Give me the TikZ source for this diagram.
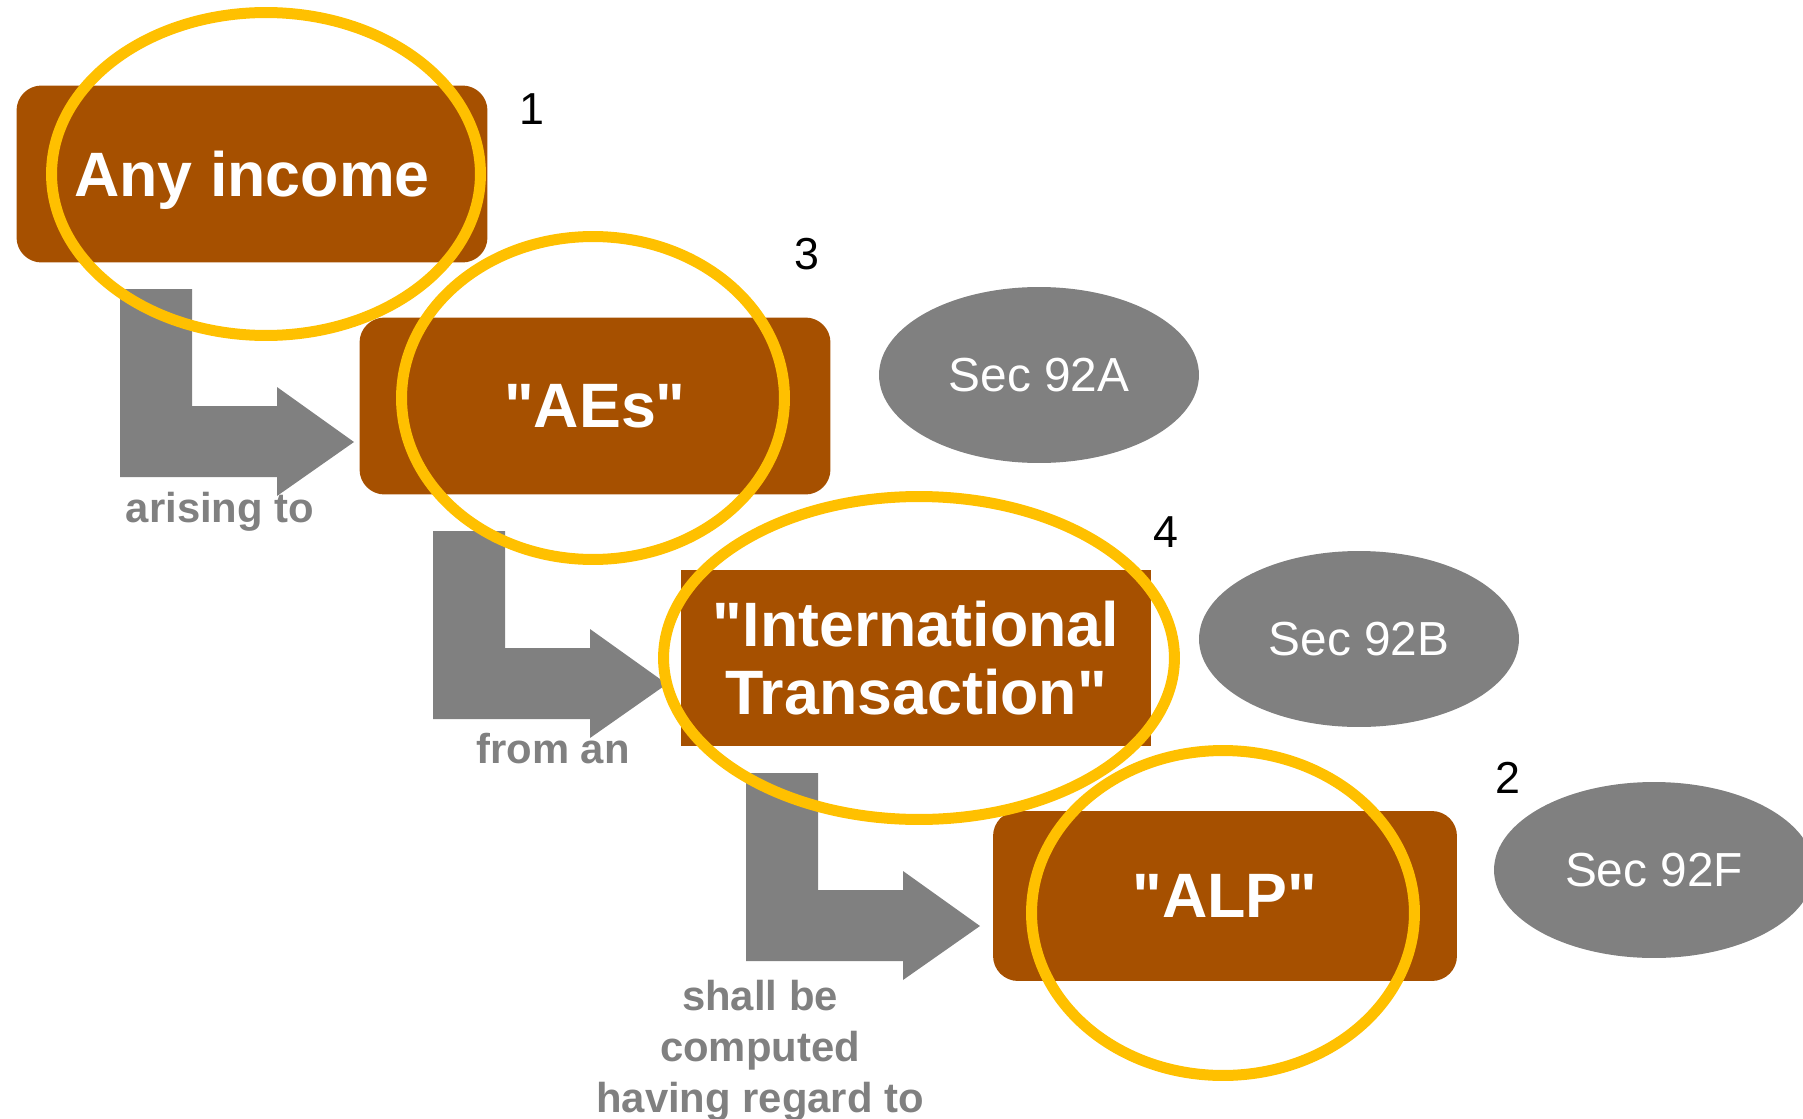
\documentclass[tikz,border=0pt]{standalone}
\usepackage{fontspec}
\setmainfont{Liberation Sans}
\newfontfamily\plainsans{Liberation Sans}
\usetikzlibrary{shapes.geometric}

\definecolor{boxbrown}{RGB}{166,80,0}
\definecolor{ringyellow}{RGB}{255,192,0}
\definecolor{arrowgray}{RGB}{128,128,128}

\begin{document}
\begin{tikzpicture}[x=0.02cm, y=-0.02cm,
    box/.style={fill=boxbrown, text=white, rounded corners=0.5cm, minimum width=9.42cm, minimum height=3.54cm,
        inner sep=0pt, text depth=0pt, align=center, font=\plainsans\fontsize{35.7}{38.9}\selectfont\bfseries},
    sec/.style={ellipse, fill=arrowgray, text=white, minimum width=6.4cm, minimum height=3.52cm,
        inner sep=0pt, text depth=0pt, font=\fontsize{27.2}{32}\selectfont},
    ring/.style={draw=ringyellow, line width=0.22cm},
    num/.style={text=black, inner sep=0pt, text depth=0pt, font=\fontsize{25.5}{30}\selectfont},
    caption/.style={text=arrowgray, inner sep=0pt, anchor=base, align=center, font=\fontsize{23.8}{28.9}\selectfont\bfseries},
    bentarrow/.style={fill=arrowgray}]

    \useasboundingbox (0,0) rectangle (1803,1119);
    \clip (0,0) rectangle (1803,1119);

    % boxes
    \node[box] (income) at (252,174) {Any income};
    \node[box] (aes) at (595,406) {"AEs"};
    \node[box, sharp corners] (trans) at (916,658) {"International\\Transaction"};
    \node[box, minimum width=9.28cm, minimum height=3.4cm] (alp) at (1225,896) {"ALP"};

    % bent arrows
    \coordinate (bend1) at (120,289);
    \coordinate (bend2) at (433,531);
    \coordinate (bend3) at (746,773);
    \fill[bentarrow] (bend1) -- ++(72,0) -- ++(0,117) -- ++(85,0) -- ++(0,-19) -- ++(77,55) -- ++(-77,54) -- ++(0,-19) -- ++(-157,0) -- cycle;
    \fill[bentarrow] (bend2) -- ++(72,0) -- ++(0,117) -- ++(85,0) -- ++(0,-19) -- ++(77,55) -- ++(-77,54) -- ++(0,-19) -- ++(-157,0) -- cycle;
    \fill[bentarrow] (bend3) -- ++(72,0) -- ++(0,117) -- ++(85,0) -- ++(0,-19) -- ++(77,55) -- ++(-77,54) -- ++(0,-19) -- ++(-157,0) -- cycle;

    \node[caption] (arising) at (220,522) {arising to};
    \node[caption] (froman) at (553,763) {from an};
    \node[caption] (computed) at (760,1112) {shall be\\computed\\having regard to};

    % sections
    \node[sec] (secA) at (1039,375) {Sec 92A};
    \node[sec] (secB) at (1359,639) {Sec 92B};
    \node[sec] (secF) at (1654,870) {Sec 92F};

    % rings
    \draw[ring] (266,174) ellipse [x radius=4.29cm, y radius=3.23cm];
    \draw[ring] (593,398) ellipse [x radius=3.83cm, y radius=3.23cm];
    \draw[ring] (919,658) ellipse [x radius=5.11cm, y radius=3.23cm];
    \draw[ring] (1223,913) ellipse [x radius=3.83cm, y radius=3.25cm];

    \node[num] (n1) at (532,109) {1};
    \node[num] (n3) at (807,254) {3};
    \node[num] (n4) at (1166,532) {4};
    \node[num] (n2) at (1508,778) {2};

\end{tikzpicture}
\end{document}
